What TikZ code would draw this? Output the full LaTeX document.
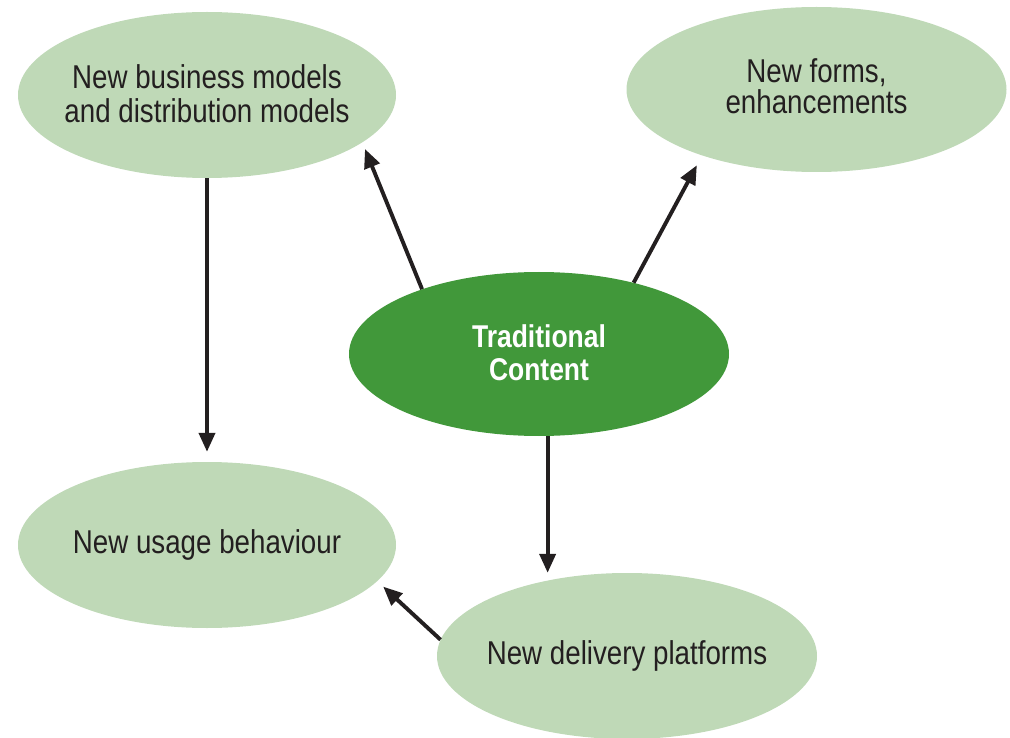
\documentclass[tikz,border=0pt]{standalone}
\usepackage{fontspec}
\setmainfont{Liberation Sans}[FakeStretch=0.84]
\usetikzlibrary{shapes.geometric,arrows.meta}
\definecolor{lightg}{HTML}{BFD9B7}
\definecolor{darkg}{HTML}{41983A}
\definecolor{arrowc}{HTML}{231F20}
\begin{document}
\begin{tikzpicture}[x=1pt,y=-1pt,
  oval/.style={ellipse,fill=lightg,draw=none,inner sep=0pt,minimum width=378pt,minimum height=166pt},
  coreoval/.style={oval,fill=darkg},
  lbl/.style={inner sep=0pt,align=center,font=\fontsize{33}{34}\selectfont,text=arrowc},
  corelbl/.style={lbl,text=white,font=\fontsize{31.5}{33}\selectfont\bfseries},
  arr/.style={draw=arrowc,line width=3.9pt,-{Triangle[length=19pt,width=16pt]}}]
\useasboundingbox (0,0) rectangle (1010,738);
\node[oval] (tl) at (207,95) {};
\node[lbl] (tlt) at (207,94) {New business models\\and distribution models};
\node[oval,minimum width=380pt,minimum height=165pt] (tr) at (816.5,89.5) {};
\node[lbl,font=\fontsize{33}{31}\selectfont] (trt) at (816.5,86) {New forms,\\enhancements};
\node[coreoval,minimum width=380pt,minimum height=164pt] (c) at (539,354) {};
\node[corelbl] (ct) at (539,353) {Traditional\\Content};
\node[oval] (bl) at (207,545) {};
\node[lbl] (blt) at (207,545) {New usage behaviour};
\node[oval,minimum width=380pt] (br) at (627,656) {};
\node[lbl] (brt) at (627,656) {New delivery platforms};
\draw[arr,shorten >=7pt] (c.151.9) -- (tl.-17.3);
\draw[arr,shorten >=11pt] (c.37) -- (tr.210.4);
\draw[arr,shorten >=10pt] (tl.south) -- (bl.north);
\draw[arr] (c.-84.4) -- (c.-84.4 |- br.north);
\draw[arr,shorten >=8pt] (br.175.4) -- (bl.-12.1);
\end{tikzpicture}
\end{document}
